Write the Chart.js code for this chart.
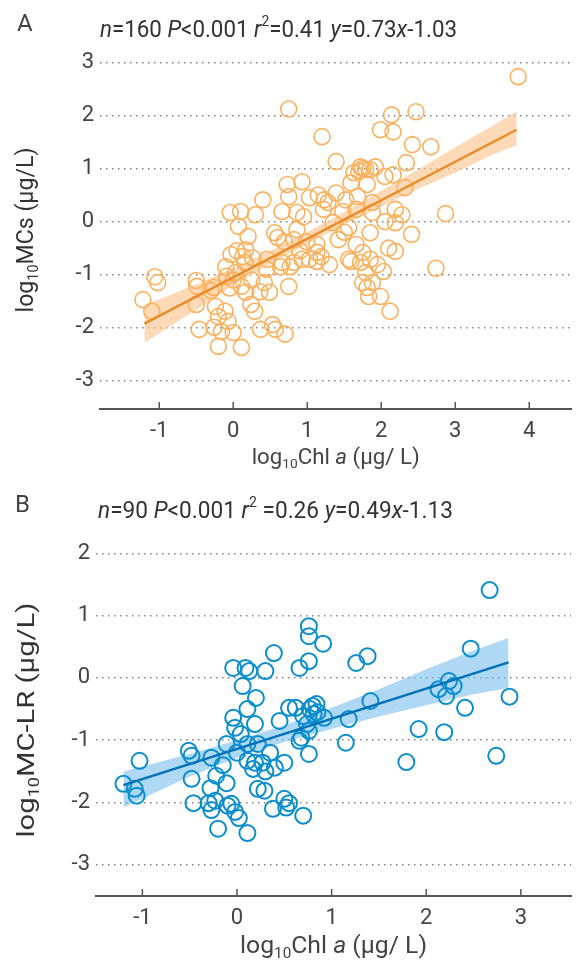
<!DOCTYPE html>
<html>
<head>
<meta charset="utf-8">
<script src="https://cdn.jsdelivr.net/npm/chart.js@4.4.0/dist/chart.umd.min.js"></script>
<style>
  html, body { margin: 0; padding: 0; background: #fff; }
  .panel { position: absolute; left: 0; width: 581px; }
  #panelA { top: 0; height: 475px; }
  #panelB { top: 475px; height: 487px; }
</style>
</head>
<body>
<div class="panel" id="panelA"><canvas id="chartA"></canvas></div>
<div class="panel" id="panelB"><canvas id="chartB"></canvas></div>
<script>
// Panel A: log10 Chl a vs log10 MCs
const chlA = [0.75, 1.2, 0.73, 0.93, 1.15, 0.4, 0.75, -0.04, 0.1, 0.3, 0.66, 0.86, 0.07, 0.2, 0.56, 0.69, 0.82, 0.86, 1.13, -0.03,
  0.17, 0.26, 0.46, 0.66, 0.77, 1.03, 1.19, -0.1, 0.16, -1.06, -0.5, 1.23, 1.22, 3.85, 2.14, 2.47, 1.99, 2.16, 2.42, 2.67,
  1.39, 1.72, 1.92, 1.79, 1.63, 2.05, 2.16, 2.34, 2.32, 1.59, 1.81, 1.03, 1.39, 1.52, 1.28, 1.68, 1.88, 1.48, 1.66, 1.88,
  2.19, 2.28, 2.87, 0.95, 1.35, 2.19, 1.56, 1.85, 2.41, 1.42, 0.99, 1.66, 1.13, 1.75, 2.19, 1.59, 1.85, 1.30, 1.95, 2.74,
  0.93, -1.22, -1.02, -1.1, -0.49, -0.26, -0.5, -0.46, -0.24, -0.2, -0.11, -0.26, -0.16, -0.2, 0, 0.11, -0.07, -0.09, 0.03, 0.11,
  0.17, 0.24, 0.29, 0.36, 0.49, 0.42, 0.37, 0.53, 0.57, 0.7, 0.75, 0.64, 0.82, 1.13, 1.56, 1.72, 1.79, 1.75, 1.81, 1.88,
  1.83, 1.99, 2.12, 2.03, 0.13, 0.0, 0.05, 1.7, 1.75, 1.85, 0.6, 0.25, 0.45, -0.3, 0.9, 1.5, 2.05, 2.1, -0.05];
const mcsA = [2.12, 1.6, 0.70, 0.75, 0.5, 0.41, 0.47, 0.17, 0.19, 0.13, 0.19, 0.17, -0.09, -0.28, -0.21, -0.38, -0.34, -0.15, -0.43, -0.62,
  -0.53, -0.68, -0.71, -0.77, -0.85, -0.71, -0.66, -0.85, -0.77, -1.04, -1.11, 0.41, 0.23, 2.73, 2.01, 2.07, 1.73, 1.69, 1.45, 1.41,
  1.13, 1.03, 1.03, 0.98, 0.92, 0.85, 0.88, 1.11, 0.64, 0.73, 0.70, 0.45, 0.54, 0.41, 0.36, 0.47, 0.36, 0.19, 0.23, 0.17,
  0.23, 0.13, 0.15, 0.09, -0.02, -0.02, -0.11, -0.21, -0.24, -0.34, -0.38, -0.43, -0.58, -0.58, -0.56, -0.75, -0.71, -0.81, -0.81, -0.88,
  -0.71, -1.47, -1.15, -1.69, -1.22, -1.24, -1.56, -2.03, -1.6, -1.79, -1.69, -1.99, -2.07, -2.35, -2.09, -2.37, -1.88, -1.03, -0.96, -1.22,
  -1.33, -1.56, -1.69, -1.32, -1.33, -1.15, -2.03, -1.94, -2.03, -2.12, -1.22, -0.85, -0.77, -0.75, -0.71, -0.77, -0.96, -1.15, -1.24, -1.15,
  -1.41, -1.41, -1.69, -0.94, -0.66, -1.1, -0.55, 0.95, 1.0, 0.98, -0.3, -1.1, -0.9, -1.3, -0.55, -0.2, 0.0, -0.5, -1.25];
const fitXA = [-1.2, 3.83];
const fitYA = [-1.92, 1.73];
const bandXA = [-1.2, -0.5, 0, 0.5, 1, 1.5, 2, 2.5, 3, 3.5, 3.83];
const bandUpA = [-1.58, -1.18, -0.88, -0.55, -0.2, 0.18, 0.58, 0.98, 1.4, 1.8, 2.08];
const bandLoA = [-2.28, -1.66, -1.2, -0.8, -0.42, -0.06, 0.28, 0.62, 0.92, 1.26, 1.44];

// Panel B: log10 Chl a vs log10 MC-LR
const chlB = [0.76, 0.76, 0.91, 0.39, 0.76, 0.66, -0.04, 0.09, 0.13, 0.3, 0.06, 0.2, 0.11, 0.55, 0.84, 0.77, -0.04, 0.45, 0.7, 0.81,
  -0.02, 0.19, 0.04, -0.11, 0.11, 0.22, 0.66, 0.76, 0.76, -0.51, -0.48, -0.27, -1.03, 0.11, 0.19, 0.27, 0.35, 0.5, 0.4, 0.17,
  -0.48, -0.22, -0.11, -0.28, -1.2, -1.08, -1.06, 0.22, 0.29, 0.5, -0.46, -0.3, -0.23, -0.06, 0.55, 2.67, 1.26, 1.38, 2.47, 2.13,
  2.24, 2.29, 2.21, 2.88, 1.41, 2.41, 0.92, 1.18, 0.74, 1.15, 1.92, 2.19, 1.79, 2.74, 0.68, -0.2, 0.11, -0.02, 0.02, 0.38,
  0.7, 0.52, -0.27, 0.8, 0.85, 0.0, -0.15, 0.3, -0.1, 0.62];
const lrB = [0.83, 0.67, 0.55, 0.40, 0.27, 0.16, 0.16, 0.16, 0.11, 0.11, -0.13, -0.32, -0.5, -0.48, -0.42, -0.5, -0.64, -0.69, -0.61, -0.58,
  -0.80, -0.74, -0.90, -1.06, -1.06, -1.06, -1.01, -0.85, -1.22, -1.17, -1.25, -1.28, -1.33, -1.33, -1.36, -1.36, -1.20, -1.36, -1.44, -1.46,
  -1.62, -1.57, -1.69, -1.77, -1.70, -1.78, -1.89, -1.78, -1.81, -1.94, -2.01, -2.01, -1.97, -2.02, -2.01, 1.41, 0.24, 0.35, 0.47, -0.18,
  -0.05, -0.13, -0.29, -0.3, -0.37, -0.48, -0.64, -0.66, -0.74, -1.04, -0.82, -0.87, -1.35, -1.25, -0.96, -2.42, -2.49, -2.15, -2.25, -2.1,
  -2.21, -2.08, -2.12, -0.45, -0.55, -1.2, -1.4, -1.5, -2.05, -0.48];
const fitXB = [-1.2, 2.87];
const fitYB = [-1.72, 0.25];
const bandXB = [-1.2, -0.5, 0, 0.5, 1, 1.5, 2, 2.5, 2.87];
const bandUpB = [-1.5, -1.22, -1.0, -0.76, -0.48, -0.18, 0.14, 0.44, 0.64];
const bandLoB = [-2.08, -1.58, -1.28, -1.03, -0.82, -0.62, -0.44, -0.26, -0.16];

const statsA = [{t: 'n', i: 1}, {t: '=160 '}, {t: 'P', i: 1}, {t: '<0.001 '}, {t: 'r', i: 1}, {t: '2', sup: 1}, {t: '=0.41 '}, {t: 'y', i: 1}, {t: '=0.73'}, {t: 'x', i: 1}, {t: '-1.03'}];
const statsB = [{t: 'n', i: 1}, {t: '=90 '}, {t: 'P', i: 1}, {t: '<0.001 '}, {t: 'r', i: 1}, {t: '2', sup: 1}, {t: ' =0.26 '}, {t: 'y', i: 1}, {t: '=0.49'}, {t: 'x', i: 1}, {t: '-1.13'}];
const xTitle = [{t: 'log'}, {t: '10', sub: 1}, {t: 'Chl '}, {t: 'a', i: 1}, {t: ' (μg/ L)'}];
const yTitleA = [{t: 'log'}, {t: '10', sub: 1}, {t: 'MCs (μg/L)'}];
const yTitleB = [{t: 'log'}, {t: '10', sub: 1}, {t: 'MC-LR (μg/L)'}];

const pts = (xs, ys) => xs.map((x, i) => ({x: x, y: ys[i]}));

// draw a line of mixed text (italic, sub, sup), optionally squeezed to a width
function drawRich(ctx, segs, size, x, y, opts) {
  opts = opts || {};
  const parts = segs.map(s => {
    const fs = (s.sub || s.sup) ? size * 0.62 : size;
    const font = (s.i ? 'italic ' : '') + fs + 'px Roboto';
    ctx.font = font;
    return {t: s.t, font: font, w: ctx.measureText(s.t).width, dy: s.sub ? size * 0.32 : (s.sup ? -size * 0.36 : 0)};
  });
  const total = parts.reduce((a, p) => a + p.w, 0);
  const k = opts.width ? opts.width / total : 1;
  ctx.save();
  ctx.translate(x, y);
  if (opts.rotate) ctx.rotate(-Math.PI / 2);
  ctx.scale(k, 1);
  ctx.fillStyle = opts.color || '#333';
  ctx.textBaseline = 'middle';
  ctx.textAlign = 'left';
  let cx = opts.center ? -total / 2 : 0;
  parts.forEach(p => {
    ctx.font = p.font;
    ctx.fillText(p.t, cx, p.dy);
    cx += p.w;
  });
  ctx.restore();
}

const panelText = {
  id: 'panelText',
  afterDraw(chart) {
    const o = chart.options.plugins.panelText;
    const ctx = chart.ctx;
    const area = chart.chartArea;
    drawRich(ctx, [{t: o.letter}], 24, o.letterX, o.letterY, {color: '#444'});
    drawRich(ctx, o.stats, 23, o.statsX, o.statsY, {width: o.statsW});
    drawRich(ctx, xTitle, o.xSize, (area.left + area.right) / 2, o.xTitleY, {center: true, width: o.xTitleW, color: '#444'});
    drawRich(ctx, o.yTitle, o.ySize, o.yTitleX, o.yTitleY, {center: true, rotate: true, width: o.yTitleW});
  }
};

// x ticks point up into the plot
const innerTicks = {
  id: 'innerTicks',
  afterDatasetsDraw(chart) {
    const ctx = chart.ctx;
    const x = chart.scales.x;
    const bottom = chart.chartArea.bottom;
    ctx.save();
    ctx.strokeStyle = '#555';
    ctx.lineWidth = 1.5;
    x.ticks.forEach(t => {
      const px = x.getPixelForValue(t.value);
      ctx.beginPath();
      ctx.moveTo(px, bottom);
      ctx.lineTo(px, bottom - 7);
      ctx.stroke();
    });
    ctx.restore();
  }
};

function makeChart(id, cfg) {
  return new Chart(document.getElementById(id), {
    type: 'scatter',
    data: {
      datasets: [
        {data: pts(cfg.bandX, cfg.bandLo), showLine: true, pointRadius: 0, borderWidth: 0, fill: false, order: 3},
        {data: pts(cfg.bandX, cfg.bandUp), showLine: true, pointRadius: 0, borderWidth: 0, fill: '-1', backgroundColor: cfg.bandColor, order: 3},
        {data: pts(cfg.xs, cfg.ys), pointRadius: 8, pointBorderWidth: cfg.ptWidth, borderColor: cfg.ptColor, backgroundColor: 'rgba(0,0,0,0)', order: 2},
        {data: pts(cfg.fitX, cfg.fitY), showLine: true, pointRadius: 0, borderColor: cfg.lineColor, borderWidth: 2.5, order: 1}
      ]
    },
    options: {
      responsive: true,
      maintainAspectRatio: false,
      animation: false,
      layout: {padding: {top: cfg.top, right: 1, left: 0, bottom: 0}},
      plugins: {
        legend: {display: false},
        tooltip: {enabled: false},
        panelText: cfg.text
      },
      scales: {
        x: {
          min: cfg.xMin, max: cfg.xMax,
          afterFit: s => { s.height = 66; },
          ticks: {stepSize: 1, includeBounds: false, color: '#444', padding: 9, font: {family: 'Roboto', size: 22}},
          grid: {display: false, drawTicks: false},
          border: {display: true, color: '#555', width: 2}
        },
        y: {
          min: cfg.yMin, max: cfg.yMax,
          afterFit: s => { s.width = cfg.yWidth; },
          ticks: {stepSize: 1, includeBounds: false, color: '#444', padding: 6, font: {family: 'Roboto', size: 22}},
          grid: {color: '#808080', lineWidth: 1.5, drawTicks: false},
          border: {display: false, dash: [1.5, 4.5]}
        }
      }
    },
    plugins: [innerTicks, panelText]
  });
}

makeChart('chartA', {
  xs: chlA, ys: mcsA, fitX: fitXA, fitY: fitYA, bandX: bandXA, bandUp: bandUpA, bandLo: bandLoA,
  ptColor: 'rgb(253,176,92)', ptWidth: 1.6, lineColor: 'rgb(232,140,40)', bandColor: 'rgba(253,196,145,0.65)',
  xMin: -1.8, xMax: 4.57, yMin: -3.53, yMax: 3.27, top: 48, yWidth: 100,
  text: {letter: 'A', letterX: 17, letterY: 25, stats: statsA, statsX: 100, statsY: 31, statsW: 357,
    xTitleY: 458, xTitleW: 168, xSize: 22, yTitle: yTitleA, yTitleX: 27, yTitleY: 230, yTitleW: 165, ySize: 23}
});

makeChart('chartB', {
  xs: chlB, ys: lrB, fitX: fitXB, fitY: fitYB, bandX: bandXB, bandUp: bandUpB, bandLo: bandLoB,
  ptColor: 'rgb(10,142,206)', ptWidth: 2, lineColor: 'rgb(0,112,184)', bandColor: 'rgba(120,190,236,0.6)',
  xMin: -1.49, xMax: 3.53, yMin: -3.5, yMax: 2.15, top: 69, yWidth: 96,
  text: {letter: 'B', letterX: 15, letterY: 31, stats: statsB, statsX: 98, statsY: 37, statsW: 355,
    xTitleY: 472, xTitleW: 187, xSize: 24, yTitle: yTitleB, yTitleX: 28, yTitleY: 245, yTitleW: 235, ySize: 24}
});
</script>
</body>
</html>
